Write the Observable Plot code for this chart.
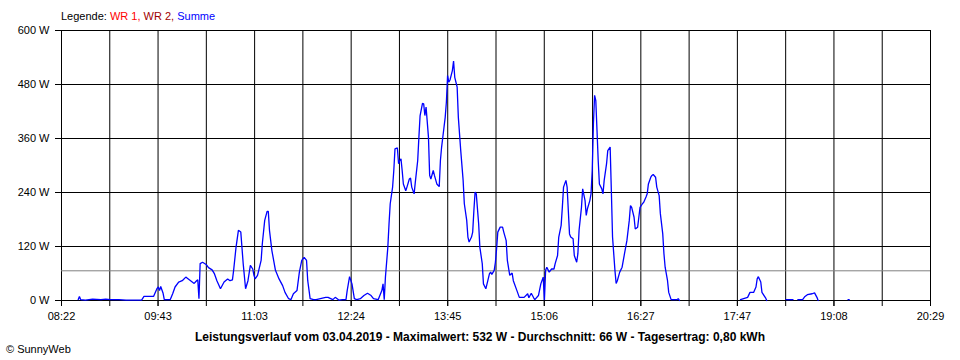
<!DOCTYPE html>
<html>
<head>
<meta charset="utf-8">
<script src="https://cdn.jsdelivr.net/npm/d3@7"></script>
<script src="https://cdn.jsdelivr.net/npm/@observablehq/plot@0.6"></script>
<style>
  html, body { margin: 0; padding: 0; background: #fff; }
  #wrap { position: relative; width: 960px; height: 360px; font-family: "Liberation Sans", Arial, sans-serif; color: #000; }
  #wrap svg { position: absolute; left: 0; top: 0; }
  .legend { position: absolute; left: 61px; top: 10px; font-size: 11px; line-height: 13px; white-space: nowrap; }
  .caption { position: absolute; left: 0; top: 330px; width: 960px; text-align: center; font-size: 12px; line-height: 14px; font-weight: bold; white-space: nowrap; }
  .credit { position: absolute; left: 6px; top: 343px; font-size: 11px; line-height: 13px; white-space: nowrap; }
</style>
</head>
<body>
<div id="wrap">
  <div class="legend">Legende: <span style="color:#ff0000">WR 1,</span> <span style="color:#a00000">WR 2,</span> <span style="color:#0000ff">Summe</span></div>
  <div class="caption">Leistungsverlauf vom 03.04.2019 - Maximalwert: 532 W - Durchschnitt: 66 W - Tagesertrag: 0,80 kWh</div>
  <div class="credit">© SunnyWeb</div>
</div>
<script>
// tick labels (x axis: time of day), y ticks in W
const timeLabels = ["08:22","09:43","11:03","12:24","13:45","15:06","16:27","17:47","19:08","20:29"];
const powerTicks = [0, 120, 240, 360, 480, 600];
const averageWatts = 66;

// Summe series: minutes since midnight and watts (null = no data)
const sampleTimes = [
  516,517,518,522,528,535,539,543,550,556,564,569,571,579,582,583,584,585,587,588,
  593,595,597,600,603,606,607,610,613,615,616,617,618,620,623,625,628,630,632,635,638,641,643,645,646,
  648,650,652,654,656,658,660,662,663,664,666,667,669,670,672,674,675,676,678,681,684,687,689,692,694,696,699,701,703,705,707,708,710,
  713,715,723,725,729,731,734,737,740,741,743,745,747,749,752,755,758,761,763,767,770,771,772,773,
  775,776,777,779,780,781,783,784,785,786,787,788,790,791,793,794,795,797,798,800,801,802,804,805,806,807,809,810,811,
  813,814,816,818,819,820,822,823,824,825,826,827,829,830,831,833,834,836,838,839,841,842,843,845,846,847,848,849,851,852,
  854,855,857,858,860,861,862,864,865,866,867,869,871,872,874,875,877,879,880,883,885,889,892,893,895,897,898,901,903,905,906,
  907,908,910,912,914,915,917,918,920,921,922,924,925,926,927,928,930,931,933,934,935,937,938,940,941,942,944,945,946,947,948,949,950,951,952,954,955,956,958,959,961,962,963,
  965,966,967,969,971,973,975,977,978,979,981,982,984,985,986,988,989,991,992,993,995,996,997,999,1000,1002,1003,1005,1006,1007,1009,1010,1012,1017,1018,1019,
  1040,
  1070,1076,1078,1081,1083,1084,1085,1087,1088,1091,1092,
  1100,
  1108,1114,
  1116,
  1118,1122,1124,1126,1130,1132,1134,1135,
  1150,
  1160,1161
];
const sumWatts = [
  2,9,2,1,3,2,3,2,2,1,1,1,9,9,27,30,22,31,16,2,
  2,15,30,41,44,52,50,44,38,44,46,4,82,85,80,73,68,59,44,26,41,48,44,46,67,
  118,156,152,82,26,44,78,70,56,48,56,67,89,126,178,198,198,156,111,67,48,33,18,4,2,15,22,63,89,96,89,44,4,
  2,2,7,7,2,7,1,2,2,22,53,37,4,2,4,11,16,11,4,2,22,37,2,52,
  118,170,215,252,289,337,339,304,311,315,289,259,244,252,270,272,252,237,263,311,363,411,438,437,411,430,363,278,270,
  289,278,259,253,311,341,385,407,441,500,485,490,511,532,496,474,407,333,267,215,178,141,130,141,152,200,241,237,170,118,
  82,37,26,37,59,63,58,67,85,115,152,163,163,152,133,89,56,61,44,22,7,7,15,6,16,6,2,11,37,52,0,
  67,74,63,70,70,82,100,141,167,207,252,267,252,200,148,141,137,100,85,104,156,207,248,222,189,204,222,237,289,393,456,444,378,311,259,248,237,267,304,333,341,244,141,
  67,38,44,63,74,104,133,178,211,207,185,159,163,185,207,215,218,230,237,259,274,278,280,274,252,233,193,148,104,74,44,18,2,2,4,0,
  null,
  2,7,18,18,30,48,53,41,18,6,0,
  null,
  2,2,
  null,
  2,2,9,13,15,17,7,0,
  null,
  2,2
];

const toMin = s => { const [h, m] = s.split(":").map(Number); return h * 60 + m; };
const tStart = toMin(timeLabels[0]);
const tEnd = toMin(timeLabels[timeLabels.length - 1]);
const nGrid = (timeLabels.length - 1) * 2;
const gridTimes = d3.range(nGrid + 1).map(i => tStart + (tEnd - tStart) * i / nGrid);
const labelTimes = gridTimes.filter((d, i) => i % 2 === 0);

const data = sampleTimes.map((t, i) => ({t, w: sumWatts[i]}));

const chart = Plot.plot({
  width: 960,
  height: 320,
  marginLeft: 61,
  marginRight: 30,
  marginTop: 30,
  marginBottom: 20,
  x: {domain: [tStart, tEnd], axis: null, label: null},
  y: {domain: [0, 600], axis: null, label: null},
  style: {fontFamily: "'Liberation Sans', Arial, sans-serif", fontSize: "11px", color: "#000", background: "transparent", overflow: "visible"},
  marks: [
    Plot.ruleX(gridTimes, {stroke: "#000", strokeWidth: 1}),
    Plot.ruleY(powerTicks, {stroke: "#000", strokeWidth: 1}),
    Plot.ruleY([averageWatts], {stroke: "#808080", strokeWidth: 1}),
    Plot.line(data, {x: "t", y: "w", stroke: "#0000ff", strokeWidth: 1.3, strokeLinejoin: "miter"}),
    Plot.axisY({ticks: powerTicks, tickFormat: d => `${d} W`, tickSize: 6, tickPadding: 6, stroke: "#000", strokeOpacity: 1, label: null}),
    Plot.axisX({ticks: gridTimes, tickFormat: () => "", tickSize: 6, stroke: "#000", strokeOpacity: 1, label: null}),
    Plot.axisX({ticks: labelTimes, tickFormat: d => timeLabels[labelTimes.indexOf(d)], tickSize: 6, tickPadding: 6, stroke: "#000", strokeOpacity: 1, label: null})
  ]
});
document.getElementById("wrap").prepend(chart);
</script>
</body>
</html>
